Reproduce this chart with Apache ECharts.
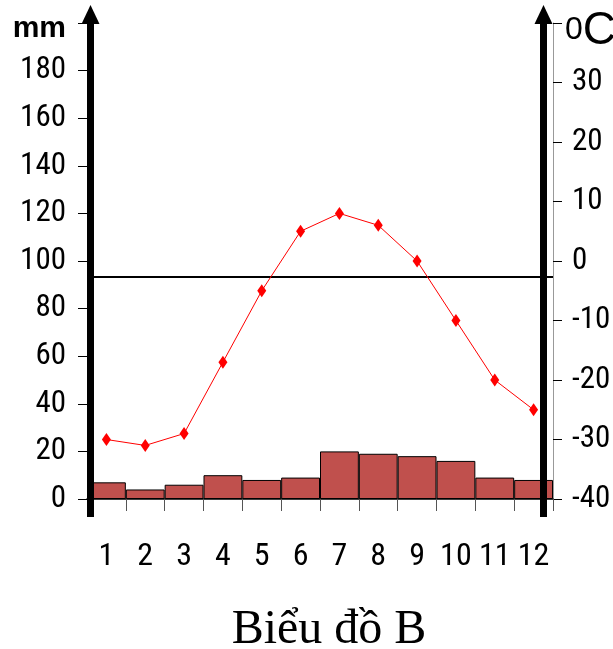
<!DOCTYPE html>
<html>
<head>
<meta charset="utf-8">
<script src="https://cdn.jsdelivr.net/npm/echarts@6/dist/echarts.min.js"></script>
<style>
html,body{margin:0;padding:0;background:#fff;}
#chart{width:613px;height:649px;}
</style>
</head>
<body>
<div id="chart"></div>
<script>
// ---- data ----
const months = ['1','2','3','4','5','6','7','8','9','10','11','12'];
const rainfall = [7, 4, 6, 10, 8, 9, 20, 19, 18, 16, 9, 8];            // mm
const temperature = [-30, -31, -29, -17, -5, 5, 8, 6, 0, -10, -20, -25]; // °C
const referenceLineMm = 93.3;
const titleText = 'Biểu đồ B';
const leftAxisName = 'mm';

// ---- font detection (pick the narrowest installed sans) ----
const cnv = document.createElement('canvas').getContext('2d');
function measure(fam) { cnv.font = '100px ' + fam; return cnv.measureText('0123456789').width; }
function installed(name) {
  return ['monospace', 'serif', 'sans-serif'].every(fb => measure("'" + name + "'," + fb) !== measure(fb)) ||
         ['monospace', 'serif'].every(fb => measure("'" + name + "'," + fb) === measure("'" + name + "',sans-serif"));
}
const candidates = ['Liberation Sans Narrow', 'Arial Narrow', 'Roboto Condensed', 'Noto Sans Condensed', 'Open Sans Condensed', 'Liberation Sans'];
let numFont = 'Liberation Sans';
for (const c of candidates) { if (installed(c)) { numFont = c; break; } }
const advRatio = measure("'" + numFont + "',sans-serif") / 1000; // digit advance per em
function fitSize(advTarget, heightTarget) {
  return Math.round(Math.sqrt((advTarget / advRatio) * (heightTarget / 0.716)));
}
const numFamily = "'" + numFont + "', sans-serif";
const leftSize = fitSize(13.5, 25);
const rightSize = Math.round(fitSize(14.5, 31) * 0.86);
const xSize = fitSize(13, 27);

// ---- layout ----
const W = 613, H = 649;
const G = { left: 87, right: 60, top: 23, bottom: 150 };

const chart = echarts.init(document.getElementById('chart'), null, { renderer: 'canvas' });

const gx0 = G.left, gx1 = W - G.right, gy0 = G.top, gy1 = H - G.bottom;
const leftArrowX = gx0 + 3.5, rightArrowX = gx1 - 9.5;

function arrow(x) {
  return [
    { type: 'rect', z: 100, shape: { x: x - 3.5, y: gy0, width: 7, height: (gy1 + 18) - gy0 }, style: { fill: '#000' } },
    { type: 'polygon', z: 100, shape: { points: [[x, 5], [x - 9, gy0 + 1], [x + 9, gy0 + 1]] }, style: { fill: '#000' } }
  ];
}

chart.setOption({
  animation: false,
  backgroundColor: '#fff',
  title: {
    text: titleText,
    left: 324, top: 601,
    textAlign: 'center',
    textStyle: { fontFamily: "'Liberation Serif', 'Times New Roman', serif", fontSize: 48, fontWeight: 'normal', color: '#000' }
  },
  grid: { left: G.left, right: G.right, top: G.top, bottom: G.bottom, containLabel: false, outerBoundsMode: 'none' },
  xAxis: {
    type: 'category',
    data: months,
    boundaryGap: true,
    axisLine: { show: true, lineStyle: { color: '#000', width: 1.5 } },
    axisTick: { show: true, length: 12, lineStyle: { color: '#555', width: 1 } },
    axisLabel: { color: '#000', fontFamily: numFamily, fontSize: xSize, margin: 42, interval: 0, hideOverlap: false },
    splitLine: { show: false }
  },
  yAxis: [
    {
      type: 'value', position: 'left', min: 0, max: 200, interval: 20,
      axisLine: { show: true, lineStyle: { color: '#999', width: 1 } },
      axisTick: { show: true, length: 9, lineStyle: { color: '#000', width: 1 } },
      splitLine: { show: false },
      axisLabel: {
        color: '#000', fontFamily: numFamily, fontSize: leftSize, margin: 21, hideOverlap: false,
        formatter: v => v === 200 ? '{mm|' + leftAxisName + '}' : String(v),
        rich: { mm: { fontFamily: "'Liberation Sans', Arial, sans-serif", fontWeight: 'bold', fontSize: 30, color: '#000', padding: [12, 0, 0, 0] } }
      }
    },
    {
      type: 'value', position: 'right', min: -40, max: 40, interval: 10,
      axisLine: { show: true, lineStyle: { color: '#999', width: 1 } },
      axisTick: { show: true, length: 9, lineStyle: { color: '#000', width: 1 } },
      splitLine: { show: false },
      axisLabel: {
        color: '#000', fontFamily: numFamily, fontSize: rightSize, margin: 12, hideOverlap: false,
        formatter: v => v === 40 ? '{s|0}{c|C}' : '{n|' + v + '}',
        rich: {
          n: { fontFamily: numFamily, fontSize: rightSize, color: '#000', padding: [0, 0, 0, 7] },
          s: { fontFamily: "'Liberation Sans', Arial, sans-serif", fontSize: 32, lineHeight: 40, color: '#000', verticalAlign: 'top', padding: [16, 0, 0, 0] },
          c: { fontFamily: "'Liberation Sans', Arial, sans-serif", fontSize: 46, lineHeight: 50, color: '#000', padding: [16, 0, 0, 0] }
        }
      }
    }
  ],
  series: [
    {
      name: 'Lượng mưa',
      type: 'bar',
      yAxisIndex: 0,
      data: rainfall,
      barWidth: '100%',
      barCategoryGap: '0%',
      itemStyle: { color: '#C0504D', borderColor: '#000', borderWidth: 1 },
      z: 2,
      markLine: {
        silent: true,
        symbol: ['none', 'none'],
        label: { show: false },
        lineStyle: { color: '#000', width: 2, type: 'solid' },
        data: [{ yAxis: referenceLineMm }]
      }
    },
    {
      name: 'Nhiệt độ',
      type: 'line',
      yAxisIndex: 1,
      data: temperature,
      symbol: 'diamond',
      symbolSize: [9, 13],
      lineStyle: { color: '#FF0000', width: 1 },
      itemStyle: { color: '#FF0000' },
      z: 5
    }
  ],
  graphic: [...arrow(leftArrowX), ...arrow(rightArrowX)]
});
</script>
</body>
</html>
